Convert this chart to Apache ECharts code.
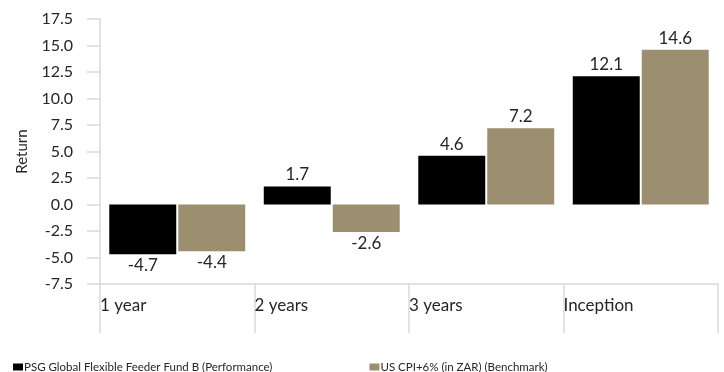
<!DOCTYPE html>
<html>
<head>
<meta charset="utf-8">
<script src="https://cdn.jsdelivr.net/npm/echarts@6/dist/echarts.min.js"></script>
<style>
  html, body { margin: 0; padding: 0; background: #fff; }
  #chart { width: 724px; height: 372px; }
</style>
</head>
<body>
<div id="chart"></div>
<script>
const categories = ['1 year', '2 years', '3 years', 'Inception'];
const fundName = 'PSG Global Flexible Feeder Fund B (Performance)';
const benchName = 'US CPI+6% (in ZAR) (Benchmark)';
const fundValues = [-4.7, 1.7, 4.6, 12.1];
const benchValues = [-4.4, -2.6, 7.2, 14.6];

const FONT = 'Lato, "Open Sans", sans-serif';
const TEXT = '#262626';
const AXIS = '#d9d9d9';

function withLabels(values) {
  return values.map(v => ({
    value: v,
    label: { position: v < 0 ? 'bottom' : 'top' }
  }));
}

const barLabel = {
  show: true,
  distance: 3,
  fontSize: 17,
  color: TEXT,
  fontFamily: FONT,
  formatter: p => p.value.toFixed(1)
};

const chart = echarts.init(document.getElementById('chart'));
chart.setOption({
  animation: false,
  textStyle: { fontFamily: FONT },
  grid: { left: 100, right: 6, top: 19, bottom: 88 },
  legend: {
    left: 8,
    top: 356,
    itemWidth: 10,
    itemHeight: 7,
    itemGap: 97,
    icon: 'rect',
    textStyle: { fontSize: 11.5, color: TEXT, fontFamily: FONT, padding: [0, 0, 0, -4] },
    data: [fundName, benchName]
  },
  xAxis: [
    {
      type: 'category',
      data: categories,
      show: false
    },
    {
      // boundary axis: labels sit at the left edge of each category group
      type: 'category',
      data: categories.concat(['']),
      boundaryGap: false,
      position: 'bottom',
      axisLine: { show: true, lineStyle: { color: AXIS, width: 1.5 } },
      axisTick: { show: true, length: 49, interval: 0, lineStyle: { color: AXIS, width: 1.5 } },
      axisLabel: { interval: 0, align: 'left', margin: 13, fontSize: 17, color: TEXT, fontFamily: FONT }
    }
  ],
  yAxis: {
    type: 'value',
    min: -7.5,
    max: 17.5,
    interval: 2.5,
    name: 'Return',
    nameLocation: 'middle',
    nameGap: 70,
    nameTextStyle: { fontSize: 15, color: TEXT, fontFamily: FONT },
    axisLine: { show: true, lineStyle: { color: AXIS, width: 1.5 } },
    axisTick: { show: true, length: 13, lineStyle: { color: AXIS, width: 1.5 } },
    splitLine: { show: false },
    axisLabel: {
      margin: 27,
      fontSize: 16,
      color: TEXT,
      fontFamily: FONT,
      formatter: v => v.toFixed(1)
    }
  },
  series: [
    {
      name: fundName,
      type: 'bar',
      xAxisIndex: 0,
      data: withLabels(fundValues),
      itemStyle: { color: '#000000' },
      barGap: '3%',
      barCategoryGap: '12%',
      label: barLabel
    },
    {
      name: benchName,
      type: 'bar',
      xAxisIndex: 0,
      data: withLabels(benchValues),
      itemStyle: { color: '#9c8f6f' },
      barGap: '3%',
      barCategoryGap: '12%',
      label: barLabel
    }
  ]
});
</script>
</body>
</html>
